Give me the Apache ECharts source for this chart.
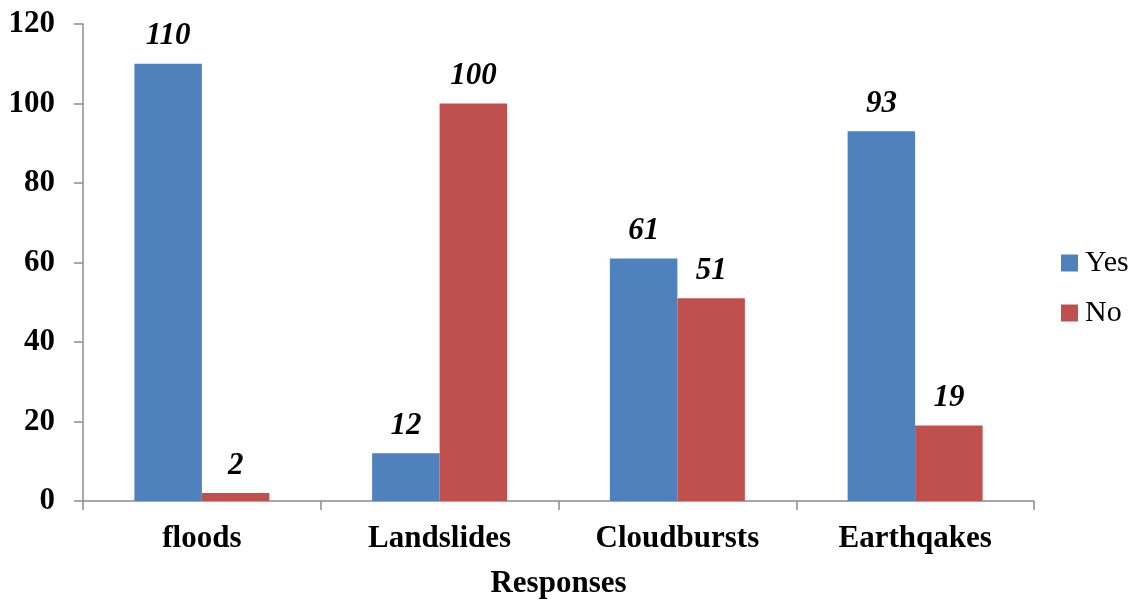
<!DOCTYPE html>
<html>
<head>
<meta charset="utf-8">
<style>
  html, body { margin: 0; padding: 0; background: #fff; }
  #chart { width: 1131px; height: 600px; }
</style>
<script src="https://cdn.jsdelivr.net/npm/echarts@6/dist/echarts.min.js"></script>
</head>
<body>
<div id="chart"></div>
<script>
// Survey responses per hazard type
const categories = ['floods', 'Landslides', 'Cloudbursts', 'Earthqakes'];
const yesValues = [110, 12, 61, 93];
const noValues = [2, 100, 51, 19];
const seriesNames = ['Yes', 'No'];

const serif = '"Liberation Serif", "Times New Roman", serif';
const axisGray = '#8c8c8c';

const chart = echarts.init(document.getElementById('chart'));

const labelStyle = {
  show: true,
  position: 'top',
  distance: 12,
  fontFamily: serif,
  fontSize: 31,
  fontWeight: 'bold',
  fontStyle: 'italic',
  color: '#000'
};

chart.setOption({
  animation: false,
  backgroundColor: '#fff',
  grid: {
    left: 83, right: 97, top: 24, bottom: 99,
    containLabel: false,
    outerBoundsMode: 'none'
  },
  legend: {
    orient: 'vertical',
    left: 1056,
    top: 243,
    itemWidth: 17,
    itemHeight: 17,
    itemGap: 20,
    icon: 'rect',
    textStyle: { fontFamily: serif, fontSize: 30, color: '#000', padding: [0, 0, 0, 2] },
    data: seriesNames
  },
  xAxis: {
    type: 'category',
    data: categories,
    name: 'Responses',
    nameLocation: 'middle',
    nameGap: 67,
    nameTextStyle: { fontFamily: serif, fontSize: 31, fontWeight: 'bold', color: '#000' },
    axisLine: { lineStyle: { color: axisGray, width: 1.5 } },
    axisTick: { show: true, length: 9, alignWithLabel: false, lineStyle: { color: axisGray, width: 1.5 } },
    axisLabel: { margin: 22, fontFamily: serif, fontSize: 31, fontWeight: 'bold', color: '#000' }
  },
  yAxis: {
    type: 'value',
    min: 0,
    max: 120,
    interval: 20,
    axisLine: { show: true, lineStyle: { color: axisGray, width: 1.5 } },
    axisTick: { show: true, length: 9, lineStyle: { color: axisGray, width: 1.5 } },
    splitLine: { show: false },
    axisLabel: { margin: 28, fontFamily: serif, fontSize: 31, fontWeight: 'bold', color: '#000' }
  },
  series: [
    {
      name: seriesNames[0],
      type: 'bar',
      data: yesValues,
      barWidth: 67.5,
      barGap: '0%',
      itemStyle: { color: '#4F81BD' },
      label: labelStyle
    },
    {
      name: seriesNames[1],
      type: 'bar',
      data: noValues,
      barWidth: 67.5,
      barGap: '0%',
      itemStyle: { color: '#C0504D' },
      label: labelStyle
    }
  ]
});
</script>
</body>
</html>
